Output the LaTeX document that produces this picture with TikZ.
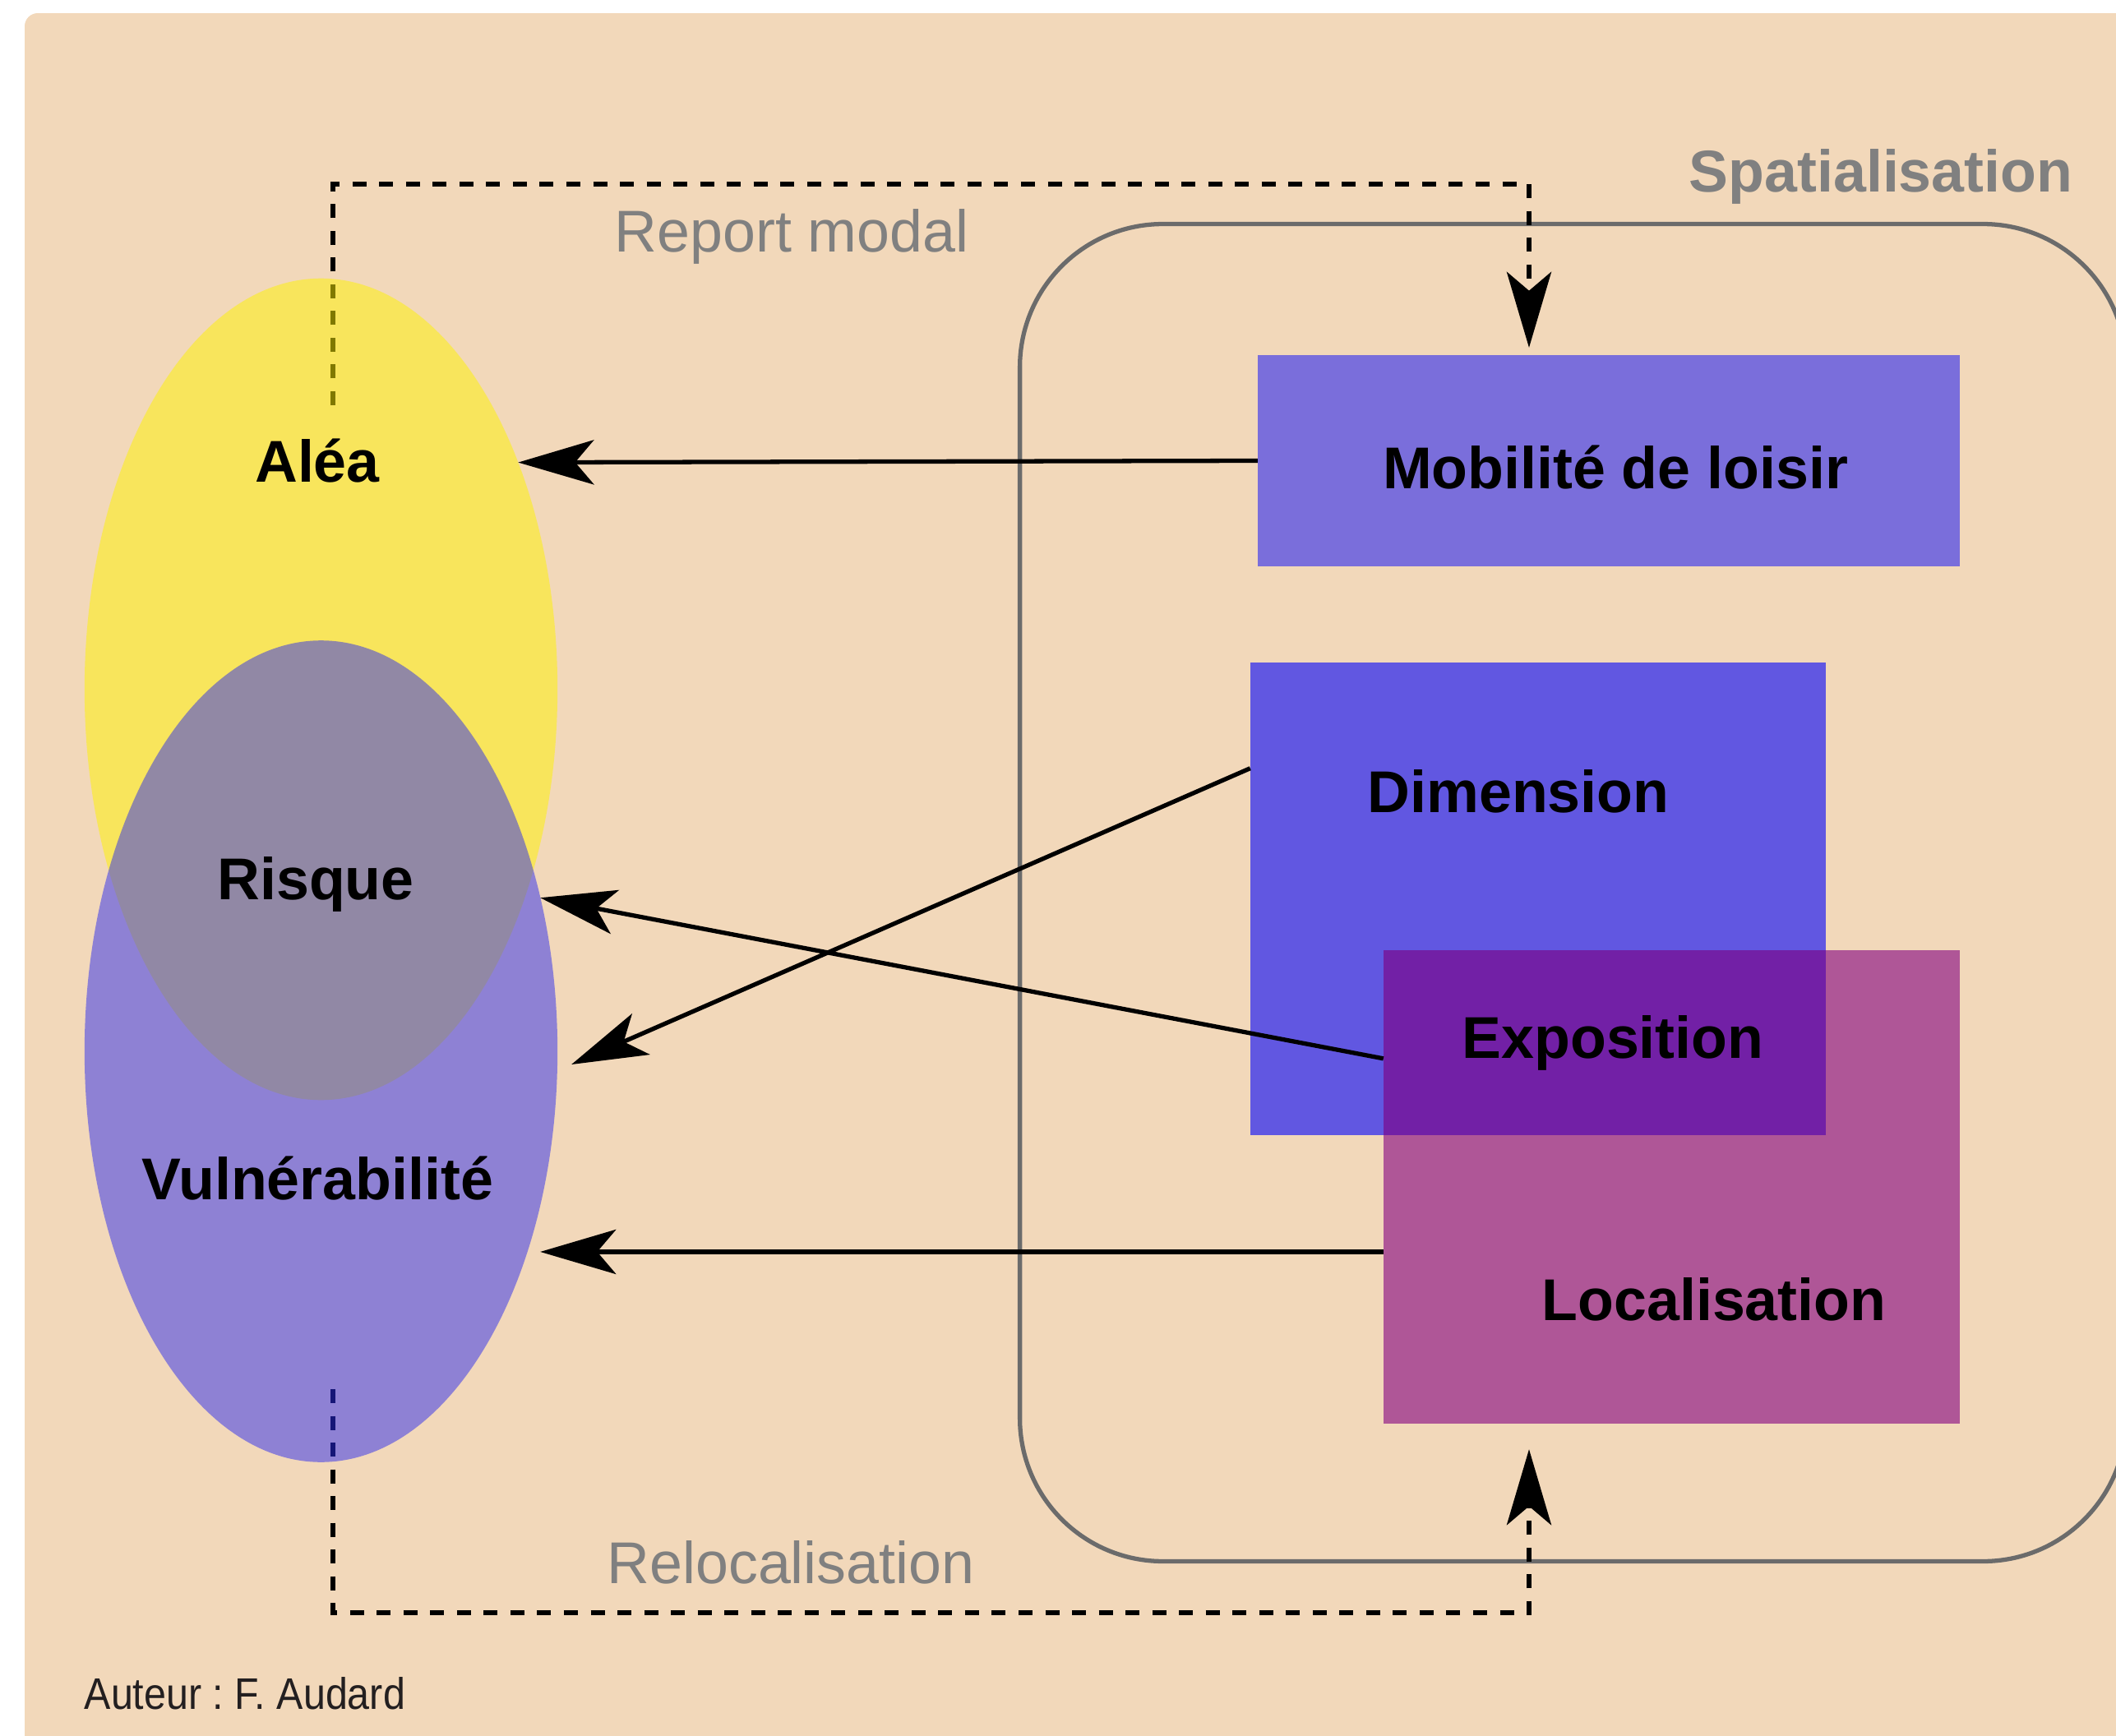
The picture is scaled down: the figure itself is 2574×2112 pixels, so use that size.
\documentclass[tikz,border=0pt]{standalone}
\usepackage{fontspec}
\usepackage{graphicx}
\setmainfont{Liberation Sans}
\usetikzlibrary{arrows.meta,calc,shapes.geometric}
\definecolor{bg}{HTML}{F2D8BA}
\definecolor{mobc}{HTML}{7A6EDB}
\definecolor{dimc}{HTML}{6157E1}
\definecolor{locc}{HTML}{AF5697}
\definecolor{expc}{HTML}{7220A6}
\definecolor{vulc}{RGB}{44,44,238}
\definecolor{spatc}{HTML}{6B6B6B}
\definecolor{txtg}{HTML}{808080}
\definecolor{auth}{HTML}{231F20}
\tikzset{
  lbl/.style={font=\bfseries\fontsize{20.4pt}{24pt}\selectfont, anchor=base, inner sep=0pt, outer sep=0pt, text=black},
  glbl/.style={font=\fontsize{20.4pt}{24pt}\selectfont, anchor=base, inner sep=0pt, outer sep=0pt, text=txtg},
  boxnode/.style={rectangle, inner sep=0pt, outer sep=0pt, draw=none},
  ellnode/.style={ellipse, inner sep=0pt, outer sep=0pt, draw=none, minimum width=5.75cm, minimum height=9.99cm, fill opacity=0.5},
  tipstyle/.style={-{Stealth[length=26.2pt,width=15.4pt,inset=6.5pt]}},
  arr/.style={line width=1.5pt, tipstyle},
  dasharr/.style={line width=1.5pt, dash pattern=on 4.84pt off 4.41pt, tipstyle},
}
\begin{document}
\frenchspacing
\begin{tikzpicture}[x=0.01cm, y=-0.01cm]
\useasboundingbox (0,0) rectangle (2574,2112);
\clip (0,0) rectangle (2574,2112);
\fill[white] (0,0) rectangle (2574,2112);
% background panel
\fill[bg, rounded corners=0.16cm] (30,16) rectangle (2700,2250);
% spatialisation frame
\node[draw=spatc, line width=1.5pt, rounded corners=1.74cm, rectangle, inner sep=0pt, minimum width=13.45cm, minimum height=16.26cm] (spat) at (1913.5,1086) {};
\node[lbl, text=txtg] (spattxt) at (2288,233) {Spatialisation};
% boxes
\node[boxnode, fill=mobc, minimum width=8.54cm, minimum height=2.57cm] (mob) at (1957,560.5) {};
\node[boxnode, fill=dimc, minimum width=7.00cm, minimum height=5.75cm] (dim) at (1871,1093.5) {};
\node[boxnode, fill=locc, minimum width=7.01cm, minimum height=5.76cm] (loc) at (2033.5,1444) {};
\node[boxnode, fill=expc, minimum width=5.38cm, minimum height=2.25cm] (exp) at (1952,1268.5) {};
\node[lbl] (mobtxt) at (1965,594) {Mobilité de loisir};
\node[lbl] (dimtxt) at (1847,988) {Dimension};
\node[lbl] (exptxt) at (1962,1287) {Exposition};
\node[lbl] (loctxt) at (2085,1606) {Localisation};
% dashed connectors (under the ellipses)
\coordinate (rmS) at (405,493);
\coordinate (rmA) at (405,224);
\coordinate (rmB) at (1860,224);
\coordinate (rmE) at ($(mob.north -| rmB)+(0,-9)$);
\draw[dasharr] (rmS) -- (rmA) -- (rmB) -- (rmE);
\coordinate (rlS) at (405,1690);
\coordinate (rlA) at (405,1962);
\coordinate (rlB) at (1860,1962);
\coordinate (rlE) at ($(loc.south -| rlB)+(0,31)$);
\draw[dasharr] (rlS) -- (rlA) -- (rlB) -- (rlE);
\node[glbl] (rmtxt) at (963,306) {Report modal};
\node[glbl] (rltxt) at (962,1926) {Relocalisation};
% ellipses
\node[ellnode, fill=yellow] (alea) at (390.5,838.5) {};
\node[ellnode, fill=vulc] (vul) at (390.5,1279) {};
\node[lbl] (aleatxt) at (386,586) {Aléa};
\node[lbl] (risqtxt) at (384,1094) {Risque};
\node[lbl] (vultxt) at (386,1459) {Vulnérabilité};
% solid arrows
\draw[arr] (mob.west) -- (alea.49.26);
\coordinate (dimS) at ($(dim.north west)!0.224!(dim.south west)$);
\coordinate (dimT) at ($(vul.east)+(17,16)$);
\draw[arr] (dimS) -- (dimT);
\coordinate (expS) at ($(loc.north west)!0.229!(loc.south west)$);
\draw[arr] (expS) -- (vul.35.6);
\coordinate (locS) at ($(loc.north west)!0.637!(loc.south west)$);
\coordinate (locT) at ($(locS -| vul.east)+(-21,0)$);
\draw[arr] (locS) -- (locT);
% author
\node[anchor=base west, inner sep=0pt, text=auth, font=\fontsize{15.3pt}{18pt}\selectfont] (author) at (102,2079) {\scalebox{0.9}[1]{Auteur : F. Audard}};
\end{tikzpicture}
\end{document}
